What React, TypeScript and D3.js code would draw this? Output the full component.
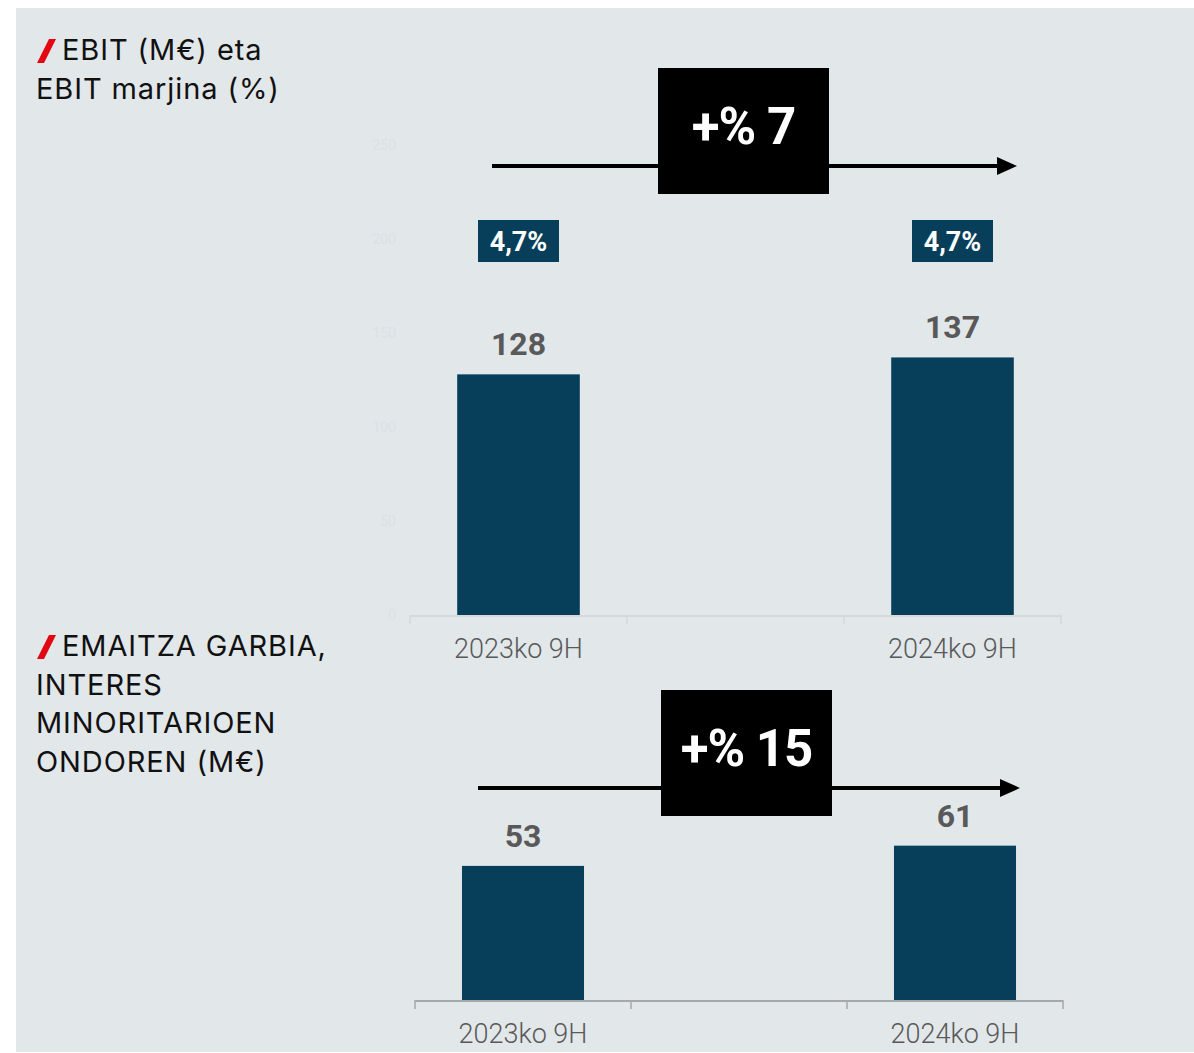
import React, {useEffect, useRef} from 'react';
import * as d3 from 'd3';

// category slots, the middle one is left empty like in the source slide
const categories = ['2023ko 9H', '', '2024ko 9H'];

const ebitValues = [128, null, 137];
const ebitMargins = ['4,7%', null, '4,7%'];
const ebitTicks = [0, 50, 100, 150, 200, 250];
const ebitGrowth = '+% 7';

const netValues = [53, null, 61];
const netGrowth = '+% 15';

const titleTop = ['EBIT (M€) eta', 'EBIT marjina (%)'];
const titleBottom = ['EMAITZA GARBIA,', 'INTERES', 'MINORITARIOEN', 'ONDOREN (M€)'];

const BG = '#e2e7ea';
const BAR = '#073f5a';
const LABEL = '#595959';
const FONT = 'Roboto, "Noto Sans", sans-serif';
const TITLE_FONT = 'Inter, Roboto, sans-serif';

function App() {
    const ref = useRef<SVGSVGElement>(null);

    useEffect(() => {
        drawChart();
    }, []);

    function drawTitle(svg: any, lines: string[], y0: number) {
        // red slash marker
        svg.append('path')
            .attr('d', `M${37},${y0 + 3} L${44},${y0 + 3} L${56},${y0 - 21} L${49},${y0 - 21} Z`)
            .attr('fill', '#e30613');
        lines.forEach((t, i) => {
            svg.append('text')
                .attr('x', i === 0 ? 62 : 36)
                .attr('y', y0 + i * 38.5)
                .attr('font-family', TITLE_FONT)
                .attr('font-size', 29)
                .attr('letter-spacing', 0.9)
                .attr('fill', '#111')
                .text(t);
        });
    }

    function drawGrowth(svg: any, x0: number, x1: number, y: number, box: number[], label: string, textY: number) {
        svg.append('line')
            .attr('x1', x0).attr('x2', x1 - 18)
            .attr('y1', y).attr('y2', y)
            .attr('stroke', '#000').attr('stroke-width', 4);
        svg.append('path')
            .attr('d', `M${x1 - 20},${y - 9} L${x1},${y} L${x1 - 20},${y + 9} Z`)
            .attr('fill', '#000');
        svg.append('rect')
            .attr('x', box[0]).attr('y', box[1])
            .attr('width', box[2]).attr('height', box[3])
            .attr('fill', '#000');
        svg.append('text')
            .attr('x', box[0] + box[2] / 2)
            .attr('y', textY)
            .attr('text-anchor', 'middle')
            .attr('font-family', FONT)
            .attr('font-weight', 'bold')
            .attr('font-size', 51)
            .attr('letter-spacing', -1)
            .attr('fill', '#fff')
            .text(label);
    }

    function drawBars(svg: any, values: (number | null)[], x: any, y: any, axisColor: string) {
        const base = y(0);
        const bw = x.bandwidth() * 0.565;

        svg.selectAll(null)
            .data(values.map((v, i) => ({v, c: categories[i]})).filter(d => d.v !== null))
            .enter()
            .append('rect')
            .attr('x', (d: any) => x(d.c) + (x.bandwidth() - bw) / 2)
            .attr('y', (d: any) => y(d.v))
            .attr('width', bw)
            .attr('height', (d: any) => base - y(d.v))
            .attr('fill', BAR);

        svg.selectAll(null)
            .data(values.map((v, i) => ({v, c: categories[i]})).filter(d => d.v !== null))
            .enter()
            .append('text')
            .attr('x', (d: any) => x(d.c) + x.bandwidth() / 2)
            .attr('y', (d: any) => y(d.v) - 19)
            .attr('text-anchor', 'middle')
            .attr('font-family', FONT)
            .attr('font-weight', 'bold')
            .attr('font-size', 32)
            .attr('fill', LABEL)
            .text((d: any) => d.v);

        // axis line with ticks at band edges
        const [r0, r1] = x.range();
        svg.append('line')
            .attr('x1', r0).attr('x2', r1)
            .attr('y1', base + 1).attr('y2', base + 1)
            .attr('stroke', axisColor).attr('stroke-width', 2);
        const edges = categories.map(c => x(c)).concat([r1]);
        svg.selectAll(null)
            .data(edges)
            .enter()
            .append('line')
            .attr('x1', (d: number) => d).attr('x2', (d: number) => d)
            .attr('y1', base).attr('y2', base + 9)
            .attr('stroke', axisColor).attr('stroke-width', 1.5);

        svg.selectAll(null)
            .data(categories.filter(c => c !== ''))
            .enter()
            .append('text')
            .attr('x', (d: string) => x(d) + x.bandwidth() / 2)
            .attr('y', base + 43)
            .attr('text-anchor', 'middle')
            .attr('font-family', FONT)
            .attr('font-weight', 300)
            .attr('font-size', 27)
            .attr('fill', LABEL)
            .text((d: string) => d);
    }

    function drawChart() {
        const svg = d3.select(ref.current);
        svg.selectAll('*').remove();

        svg.append('rect')
            .attr('x', 16).attr('y', 8)
            .attr('width', 1194 - 16).attr('height', 1044)
            .attr('fill', BG);

        // ---- EBIT chart ----
        drawTitle(svg, titleTop, 60);

        const x1 = d3.scaleBand().domain(categories).range([410, 1061]).padding(0);
        const y1 = d3.scaleLinear().domain([0, 250]).range([615, 145]);

        // very faint y tick labels
        svg.selectAll(null)
            .data(ebitTicks)
            .enter()
            .append('text')
            .attr('x', 396)
            .attr('y', (d: number) => y1(d) + 5)
            .attr('text-anchor', 'end')
            .attr('font-family', FONT)
            .attr('font-size', 14)
            .attr('fill', '#dce1e5')
            .text((d: number) => d);

        drawGrowth(svg, 492, 1017, 166, [658, 68, 171, 126], ebitGrowth, 144);

        svg.selectAll(null)
            .data(ebitMargins.map((m, i) => ({m, c: categories[i]})).filter(d => d.m !== null))
            .enter()
            .append('rect')
            .attr('x', (d: any) => x1(d.c)! + x1.bandwidth() / 2 - 40.5)
            .attr('y', 220)
            .attr('width', 81)
            .attr('height', 42)
            .attr('fill', BAR);
        svg.selectAll(null)
            .data(ebitMargins.map((m, i) => ({m, c: categories[i]})).filter(d => d.m !== null))
            .enter()
            .append('text')
            .attr('x', (d: any) => x1(d.c)! + x1.bandwidth() / 2)
            .attr('y', 251)
            .attr('text-anchor', 'middle')
            .attr('font-family', FONT)
            .attr('font-weight', 'bold')
            .attr('font-size', 27)
            .attr('fill', '#fff')
            .text((d: any) => d.m);

        drawBars(svg, ebitValues, x1, y1, '#d6d9db');

        // ---- Net result chart ----
        drawTitle(svg, titleBottom, 656);

        const x2 = d3.scaleBand().domain(categories).range([415, 1063]).padding(0);
        const y2 = d3.scaleLinear().domain([0, 80]).range([1000, 797.6]);

        drawGrowth(svg, 478, 1020, 788, [661, 690, 171, 126], netGrowth, 766);
        drawBars(svg, netValues, x2, y2, '#a6a9ab');
    }

    return (
        <svg ref={ref} width={1194} height={1053}
             style={{position: 'absolute', left: 0, top: 0, display: 'block'}}/>
    );
}

export default App;
